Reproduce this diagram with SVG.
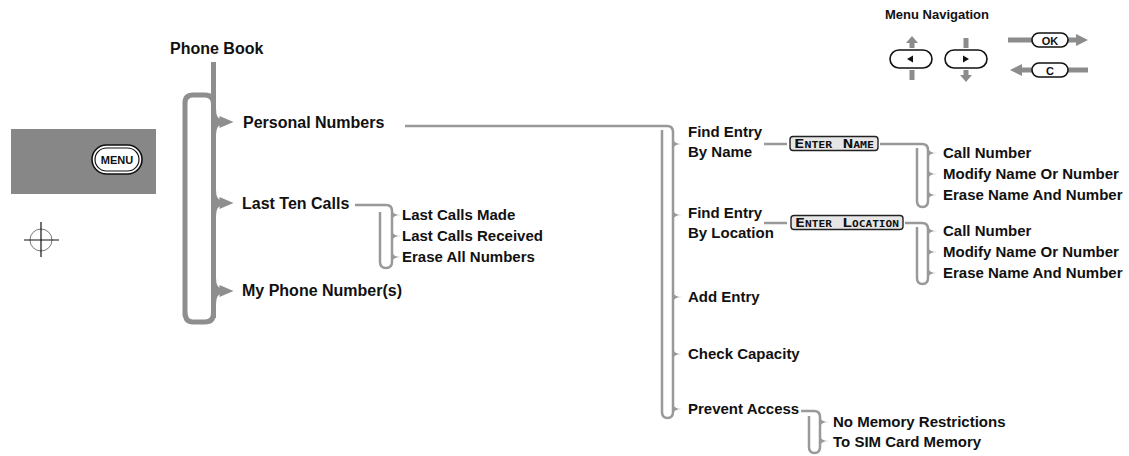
<svg xmlns="http://www.w3.org/2000/svg" width="1129" height="456" viewBox="0 0 1129 456">
<style>
.t{font-family:"Liberation Sans",Arial,sans-serif;font-weight:bold;fill:#111}
.t16{font-size:16px}
.t15{font-size:15px}
.main{fill:none;stroke:#8e8e8e;stroke-width:5}
.sub{fill:none;stroke:#999;stroke-width:2.5}
.tick{fill:#999}
.gray{fill:#8c8c8c}
.pill{fill:#fff;stroke:#111;stroke-width:1.6}
.lcd{fill:#e6e6e6;stroke:#222;stroke-width:1.4}
.lcdt{font-family:"DejaVu Sans Mono","Liberation Mono",monospace;font-weight:bold;font-size:12px;font-variant:small-caps;fill:#111}
</style>
<defs>
<g id="bigbrace">
<path d="M0,-13 Q0,0 9,0 M0,13 Q0,0 9,0" fill="none" stroke="#8e8e8e" stroke-width="5"/>
<polygon points="6,-6 20,0 6,6" fill="#8e8e8e"/>
</g>
<path id="stick" d="M0,-5 Q1,0 9,0 Q1,0 0,5 Z"/>
</defs>

<!-- left decorations -->
<g id="menu-key">
<rect x="11" y="129" width="145" height="65" fill="#878787"/>
<rect x="92" y="145" width="50" height="29" rx="14.5" class="pill"/>
<rect x="95" y="148" width="44" height="23" rx="11.5" fill="#fff" stroke="#111" stroke-width="1.2"/>
<text x="117" y="164" class="t" font-size="11" text-anchor="middle">MENU</text>
</g>
<g id="crosshair">
<circle cx="41" cy="240" r="11" fill="none" stroke="#777" stroke-width="1"/>
<line x1="24" y1="240" x2="59" y2="240" stroke="#111" stroke-width="1.2"/>
<line x1="41" y1="222" x2="41" y2="257" stroke="#111" stroke-width="1.2"/>
</g>

<!-- menu navigation legend -->
<g id="menu-navigation">
<text x="885" y="19" class="t" font-size="13">Menu Navigation</text>
<rect x="890" y="50" width="42" height="18" rx="9" class="pill"/>
<polygon points="907,59 913,55.5 913,62.5" fill="#111"/>
<rect x="909.5" y="42" width="5" height="6" class="gray"/>
<polygon points="906,43 912,36 918,43" class="gray"/>
<rect x="909.5" y="70" width="5" height="10" class="gray"/>
<rect x="945" y="50" width="42" height="18" rx="9" class="pill"/>
<polygon points="969,59 963,55.5 963,62.5" fill="#111"/>
<rect x="963.5" y="38" width="5" height="10" class="gray"/>
<rect x="963.5" y="70" width="5" height="6" class="gray"/>
<polygon points="960,75 972,75 966,82" class="gray"/>
<rect x="1008" y="37.5" width="24" height="5" class="gray"/>
<rect x="1068" y="37.5" width="9" height="5" class="gray"/>
<polygon points="1076,34 1088,40 1076,46" class="gray"/>
<rect x="1032" y="33" width="36" height="14" rx="7" class="pill"/>
<text x="1050" y="44.5" class="t" font-size="11" text-anchor="middle">OK</text>
<rect x="1021" y="67.5" width="11" height="5" class="gray"/>
<polygon points="1022,64 1010,70 1022,76" class="gray"/>
<rect x="1068" y="67.5" width="20" height="5" class="gray"/>
<rect x="1032" y="63" width="36" height="14" rx="7" class="pill"/>
<text x="1050" y="74.5" class="t" font-size="11" text-anchor="middle">C</text>
</g>

<!-- connectors -->
<g id="connectors">
<path class="main" d="M213.5,62 L213.5,318 M185,316 L185,103 Q185,95 193,95 L205,95 Q213.5,95 213.5,104 M185,312 Q185,322 193,322 L205,322 Q213.5,322 213.5,313"/>
<use href="#bigbrace" x="213.5" y="122"/>
<use href="#bigbrace" x="213.5" y="203"/>
<use href="#bigbrace" x="213.5" y="291"/>
<path class="sub" d="M355,205 L386,205 Q392,205 392,211 L392,262 Q392,268 386,268 Q380,268 380,262 L380,212"/>
<path class="sub" d="M405,126 L667,126 Q673,126 673,132 L673,412 Q673,418 667.5,418 Q662,418 662,412 L662,130"/>
<path class="sub" d="M764,144 L787,144 M880,144 L922,144 Q928,144 928,150 L928,201 Q928,207 922.5,207 Q917,207 917,201 L917,148"/>
<path class="sub" d="M764,223 L787,223 M905,223 L922,223 Q928,223 928,229 L928,278 Q928,284 922.5,284 Q917,284 917,278 L917,227"/>
<path class="sub" d="M801,411 L814,411 Q820,411 820,417 L820,447 Q820,453 814.5,453 Q809,453 809,447 L809,416"/>
<g class="tick">
<use href="#stick" x="392" y="215"/>
<use href="#stick" x="392" y="236"/>
<use href="#stick" x="392" y="257"/>
<use href="#stick" x="673" y="144"/>
<use href="#stick" x="673" y="215"/>
<use href="#stick" x="673" y="297"/>
<use href="#stick" x="673" y="354"/>
<use href="#stick" x="673" y="409"/>
<use href="#stick" x="928" y="153"/>
<use href="#stick" x="928" y="174"/>
<use href="#stick" x="928" y="195"/>
<use href="#stick" x="928" y="231"/>
<use href="#stick" x="928" y="252"/>
<use href="#stick" x="928" y="273"/>
<use href="#stick" x="820" y="422"/>
<use href="#stick" x="820" y="441"/>
</g>
</g>

<!-- nodes -->
<g id="phone-book"><text x="170" y="54" class="t t16">Phone Book</text></g>
<g id="personal-numbers"><text x="243" y="128" class="t t16">Personal Numbers</text></g>
<g id="last-ten-calls"><text x="242" y="209" class="t t16">Last Ten Calls</text></g>
<g id="my-phone-numbers"><text x="242" y="296" class="t t16">My Phone Number(s)</text></g>
<g id="last-calls-made"><text x="402" y="220" class="t t15">Last Calls Made</text></g>
<g id="last-calls-received"><text x="402" y="241" class="t t15">Last Calls Received</text></g>
<g id="erase-all-numbers"><text x="402" y="262" class="t t15">Erase All Numbers</text></g>

<g id="find-by-name"><text class="t t15"><tspan x="688" y="137">Find Entry</tspan><tspan x="688" y="157">By Name</tspan></text></g>
<g id="enter-name"><rect x="790" y="136.5" width="88" height="14" rx="3" class="lcd"/><text x="794" y="147.5" class="lcdt" textLength="80" lengthAdjust="spacingAndGlyphs">Enter  Name</text></g>
<g id="name-call"><text x="943" y="158" class="t t15">Call Number</text></g>
<g id="name-modify"><text x="943" y="179" class="t t15">Modify Name Or Number</text></g>
<g id="name-erase"><text x="943" y="200" class="t t15">Erase Name And Number</text></g>

<g id="find-by-location"><text class="t t15"><tspan x="688" y="218">Find Entry</tspan><tspan x="688" y="238">By Location</tspan></text></g>
<g id="enter-location"><rect x="791" y="215.5" width="112" height="14" rx="3" class="lcd"/><text x="795" y="226.5" class="lcdt" textLength="104" lengthAdjust="spacingAndGlyphs">Enter  Location</text></g>
<g id="loc-call"><text x="943" y="236" class="t t15">Call Number</text></g>
<g id="loc-modify"><text x="943" y="257" class="t t15">Modify Name Or Number</text></g>
<g id="loc-erase"><text x="943" y="278" class="t t15">Erase Name And Number</text></g>

<g id="add-entry"><text x="688" y="302" class="t t15">Add Entry</text></g>
<g id="check-capacity"><text x="688" y="359" class="t t15">Check Capacity</text></g>
<g id="prevent-access"><text x="688" y="414" class="t t15">Prevent Access</text></g>
<g id="no-memory-restrictions"><text x="833" y="427" class="t t15">No Memory Restrictions</text></g>
<g id="sim-card-memory"><text x="833" y="447" class="t t15">To SIM Card Memory</text></g>
</svg>
